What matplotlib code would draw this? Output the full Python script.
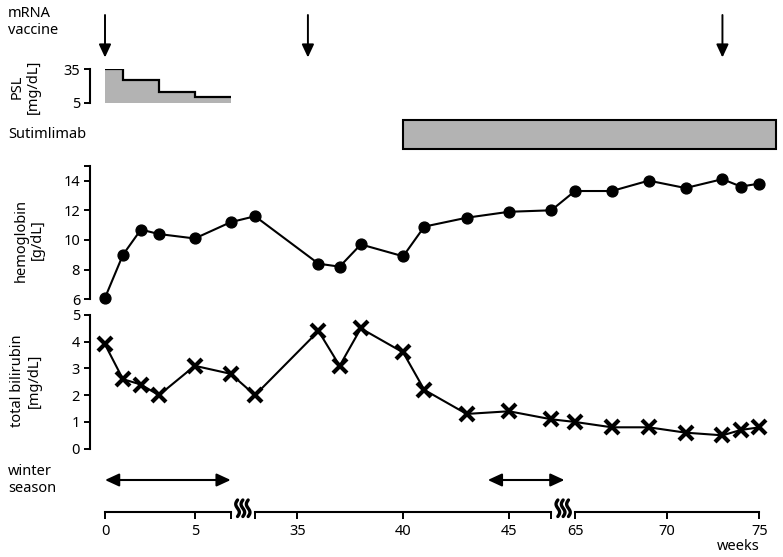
import numpy as np
import matplotlib
matplotlib.use('Agg')
import matplotlib.pyplot as plt
from matplotlib.lines import Line2D

plt.rcParams['font.family'] = ['Noto Sans', 'DejaVu Sans']
plt.rcParams['font.size'] = 10.5

# ---------------- data ----------------
vaccine_weeks = [0, 35.5, 73]
psl_edges = [0, 1, 3, 5, 7]
psl_dose = [35, 25, 15, 10]
sutimlimab_start = 40
sutimlimab_end = 75.9
hb_weeks = [0, 1, 2, 3, 5, 7, 33, 36, 37, 38, 40, 41, 43, 45, 47, 65, 67, 69, 71, 73, 74, 75]
hb_values = [6.1, 9.0, 10.7, 10.4, 10.1, 11.2, 11.6, 8.4, 8.2, 9.7, 8.9, 10.9, 11.5, 11.9,
             12.0, 13.3, 13.3, 14.0, 13.5, 14.1, 13.6, 13.8]
bil_weeks = [0, 1, 2, 3, 5, 7, 33, 36, 37, 38, 40, 41, 43, 45, 47, 65, 67, 69, 71, 73, 74, 75]
bil_values = [3.9, 2.6, 2.4, 2.0, 3.1, 2.8, 2.0, 4.4, 3.1, 4.5, 3.6, 2.2, 1.3, 1.4, 1.1,
              1.0, 0.8, 0.8, 0.6, 0.5, 0.7, 0.8]
winter_periods = [(0, 7), (44, 57)]
axis_segments = [(0, 7), (33, 47), (65, 75)]
xtick_values = [0, 5, 35, 40, 45, 65, 70, 75]
hb_ticks = [6, 8, 10, 12, 14]
bil_ticks = [0, 1, 2, 3, 4, 5]

# ---------------- broken-axis scale ----------------
W, H = 783, 557
BW = np.array([0, 7, 33, 47, 65, 75], float)
BU = np.array([105, 230.7, 255, 551.3, 575, 759.3], float)
S0 = (BU[1] - BU[0]) / (BW[1] - BW[0])
S1 = (BU[-1] - BU[-2]) / (BW[-1] - BW[-2])


def forward(w):
    w = np.asarray(w, float)
    u = np.interp(w, BW, BU)
    u = np.where(w < BW[0], BU[0] + (w - BW[0]) * S0, u)
    u = np.where(w > BW[-1], BU[-1] + (w - BW[-1]) * S1, u)
    return u


def inverse(u):
    u = np.asarray(u, float)
    w = np.interp(u, BU, BW)
    w = np.where(u < BU[0], BW[0] + (u - BU[0]) / S0, w)
    w = np.where(u > BU[-1], BW[-1] + (u - BU[-1]) / S1, w)
    return w


fig = plt.figure(figsize=(W / 100, H / 100), dpi=100)
L, R = 89.5, 783
GRAY = '#b3b3b3'


def make_ax(top, bottom):
    ax = fig.add_axes([L / W, 1 - bottom / H, (R - L) / W, (bottom - top) / H])
    ax.set_xscale('function', functions=(forward, inverse))
    ax.set_xlim(float(inverse(L)), float(inverse(R)))
    ax.patch.set_alpha(0)
    for s in ['top', 'right', 'bottom']:
        ax.spines[s].set_visible(False)
    ax.spines['left'].set_linewidth(1.5)
    ax.tick_params(axis='x', which='both', bottom=False, labelbottom=False)
    ax.tick_params(axis='y', which='both', length=4.3, width=1.4, pad=2.5, labelsize=10.5)
    return ax


# ---- vaccine arrows ----
ax_v = make_ax(10, 62)
ax_v.spines['left'].set_visible(False)
ax_v.set_yticks([])
ax_v.set_ylim(62, 10)
for w in vaccine_weeks:
    ax_v.annotate('', xy=(w, 57.5), xytext=(w, 15),
                  arrowprops=dict(arrowstyle='-|>,head_length=0.6,head_width=0.28',
                                  mutation_scale=13, lw=1.4, color='black',
                                  shrinkA=0, shrinkB=0))

# ---- PSL ----
ax_p = make_ax(69.3, 102.7)
ax_p.set_ylim(5, 35)
ax_p.stairs(psl_dose, psl_edges, baseline=5, fill=True, color=GRAY, lw=0)
ax_p.stairs(psl_dose, psl_edges, baseline=None, color='black', lw=1.6)
ax_p.set_yticks([5, 35])

# ---- Sutimlimab ----
ax_s = make_ax(120, 149)
ax_s.spines['left'].set_visible(False)
ax_s.set_yticks([])
ax_s.set_ylim(-0.5, 0.5)
ax_s.barh(0, sutimlimab_end - sutimlimab_start, left=sutimlimab_start, height=1,
          color=GRAY, edgecolor='black', lw=1.5, clip_on=False)

# ---- hemoglobin ----
ax_h = make_ax(165.8, 299.3)
ax_h.set_ylim(6, 15)
ax_h.plot(hb_weeks, hb_values, color='black', lw=1.5, marker='o', ms=7.8, clip_on=False)
ax_h.set_yticks(hb_ticks + [15], labels=[str(t) for t in hb_ticks] + [''])

# ---- bilirubin ----
ax_b = make_ax(315, 448.7)
ax_b.set_ylim(0, 5)
ax_b.plot(bil_weeks, bil_values, color='black', lw=1.5, marker='x', ms=9.5, mew=3.0,
          clip_on=False)
ax_b.set_yticks(bil_ticks)

# ---- winter season ----
ax_w = make_ax(465, 495)
ax_w.spines['left'].set_visible(False)
ax_w.set_yticks([])
ax_w.set_ylim(495, 465)
for a, b in winter_periods:
    ax_w.annotate('', xy=(b, 480), xytext=(a, 480),
                  arrowprops=dict(arrowstyle='<|-|>,head_length=0.65,head_width=0.3',
                                  mutation_scale=13, lw=1.5, color='black',
                                  shrinkA=0, shrinkB=0))

# ---- bottom axis ----
ax_x = make_ax(500, 512)
ax_x.spines['left'].set_visible(False)
ax_x.set_yticks([])
ends = [e for seg in axis_segments for e in seg if e not in xtick_values]
all_ticks = sorted(xtick_values + ends)
ax_x.set_xticks(all_ticks, labels=[str(t) if t in xtick_values else '' for t in all_ticks])
ax_x.tick_params(axis='x', which='major', bottom=True, labelbottom=True, length=4.8,
                 width=1.4, pad=4.0, labelsize=10.5)
ax_x.minorticks_off()
for a, b in axis_segments:
    ax_x.plot([a, b], [0, 0], transform=ax_x.get_xaxis_transform(), color='black',
              lw=1.5, clip_on=False, solid_capstyle='projecting')

# break symbols
for (a0, a1), (b0, b1) in zip(axis_segments[:-1], axis_segments[1:]):
    xc = (float(forward(a1)) + float(forward(b0))) / 2
    t = np.linspace(0, 1, 60)
    for k in (-1, 0, 1):
        xs = xc + k * 5.3 - 1.8 * np.sin(2 * np.pi * t)
        ys = 500 + 16.5 * t
        fig.add_artist(Line2D(xs / W, 1 - ys / H, transform=fig.transFigure,
                              color='black', lw=2.4, solid_capstyle='round'))

fig.text(760 / W, 1 - 547 / H, 'weeks', ha='right', va='center', fontsize=10.5)

# ---- left labels ----
fig.text(8 / W, 1 - 22 / H, 'mRNA\nvaccine', ha='left', va='center', fontsize=10.5,
         linespacing=1.1)
fig.text(25 / W, 1 - 86.5 / H, 'PSL\n[mg/dL]', ha='center', va='center', rotation=90,
         fontsize=10.5, linespacing=1.1)
fig.text(8 / W, 1 - 134.5 / H, 'Sutimlimab', ha='left', va='center', fontsize=10.5)
fig.text(29 / W, 1 - 240 / H, 'hemoglobin\n[g/dL]', ha='center', va='center', rotation=90,
         fontsize=10.5, linespacing=1.1)
fig.text(26 / W, 1 - 381 / H, 'total bilirubin\n[mg/dL]', ha='center', va='center',
         rotation=90, fontsize=10.5, linespacing=1.1)
fig.text(8 / W, 1 - 480 / H, 'winter\nseason', ha='left', va='center', fontsize=10.5,
         linespacing=1.1)

fig.savefig('out.png', dpi=100)
